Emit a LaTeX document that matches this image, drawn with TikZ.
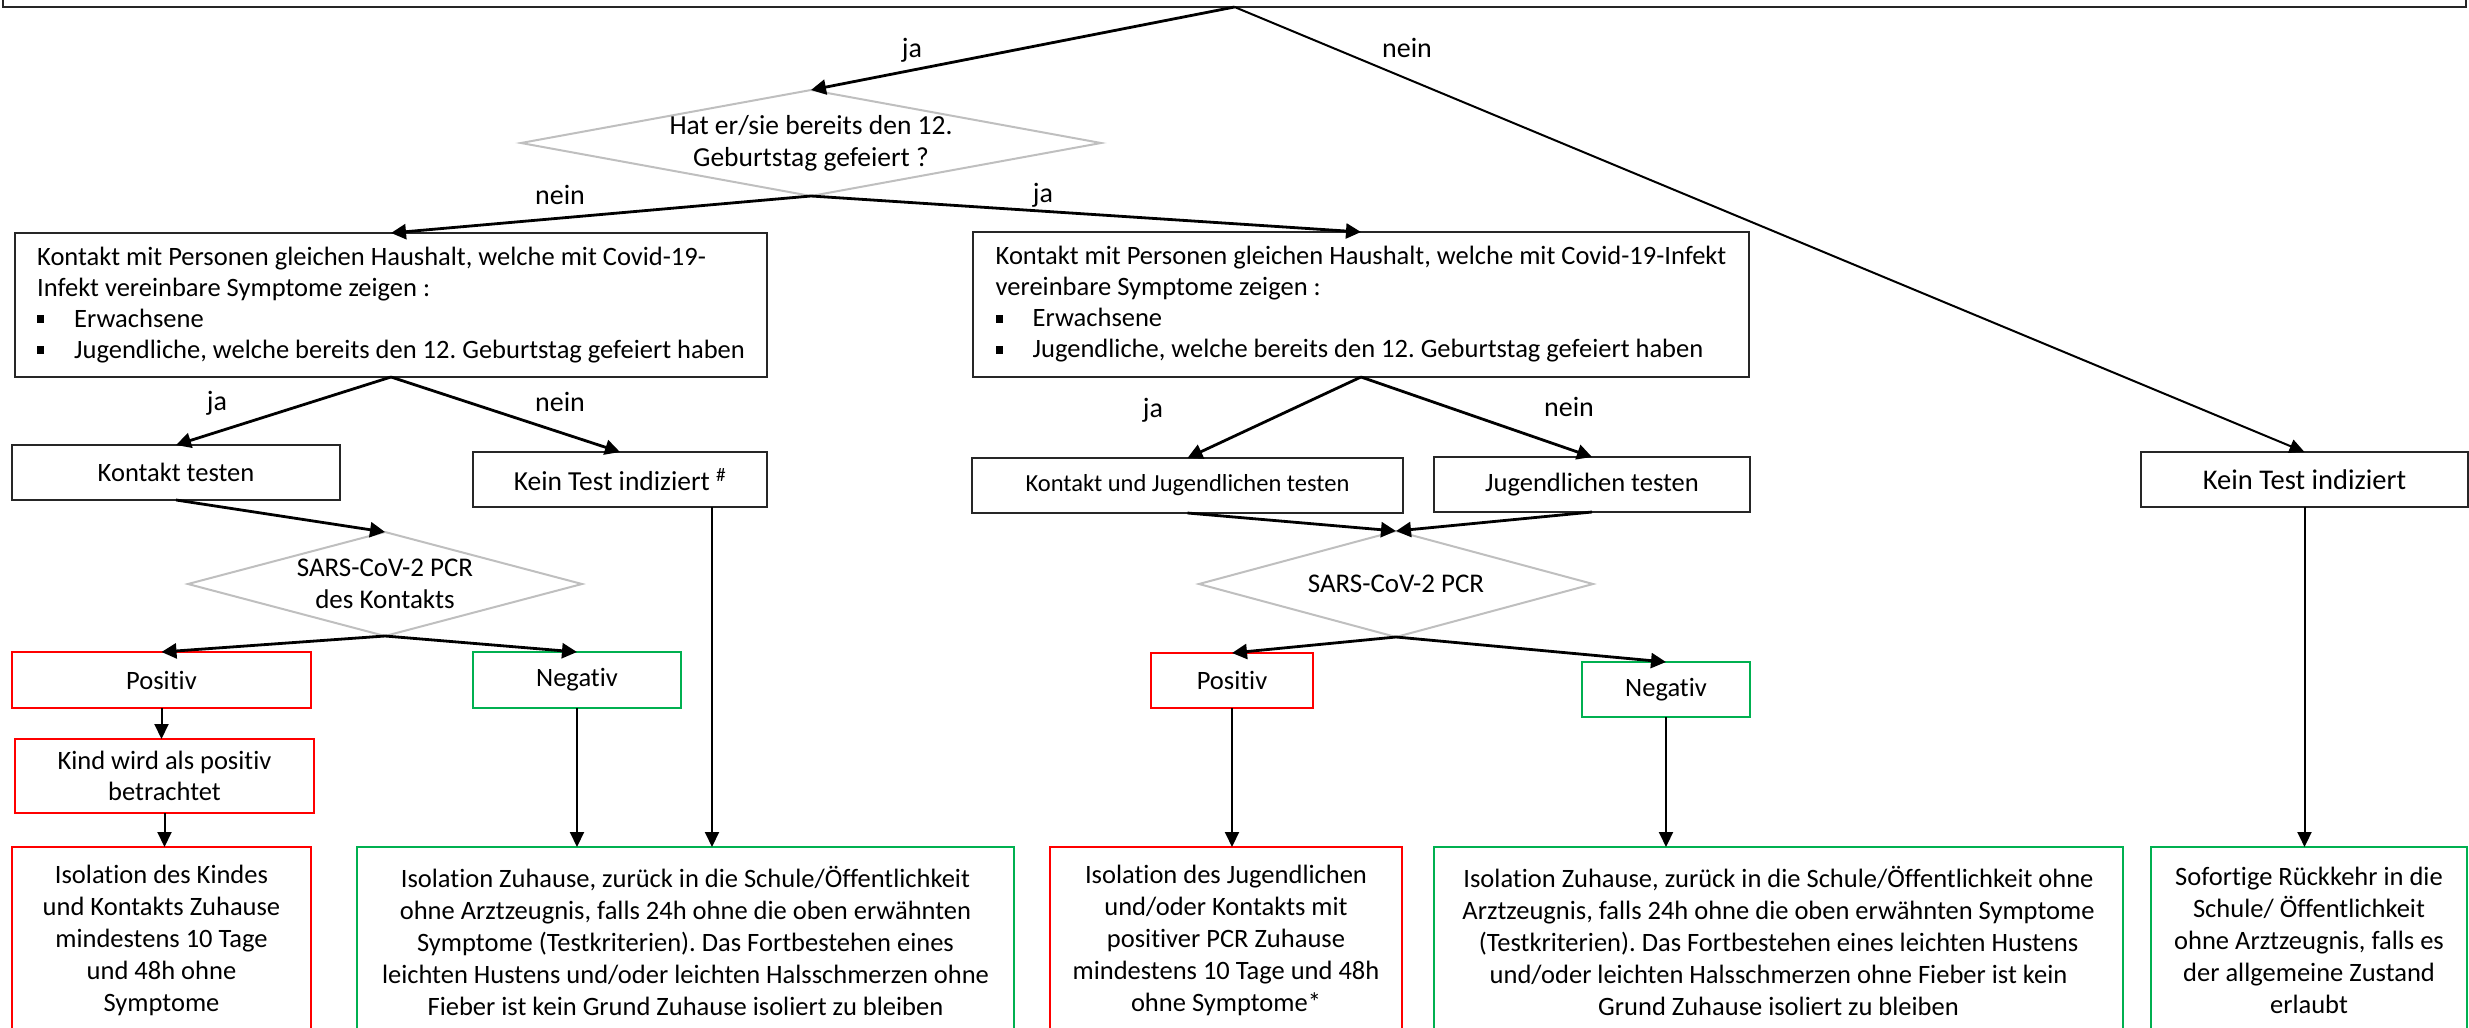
\documentclass[tikz,border=0pt]{standalone}
\usepackage{fontspec}
\setmainfont{Carlito}[Ligatures=NoCommon]
\usetikzlibrary{arrows.meta,shapes.geometric}
\definecolor{ogreen}{RGB}{0,176,80}
\definecolor{dgray}{RGB}{191,191,191}
\newcommand{\bul}{\makebox[37pt][l]{\raisebox{4pt}{\rule{7pt}{8pt}}}}
\frenchspacing
\begin{document}
\begin{tikzpicture}[x=1pt,y=-1pt,
  every node/.style={font=\fontsize{26.5}{31}\selectfont, inner sep=0pt, outer sep=0pt},
  box/.style={draw=black!85, line width=1.5pt, rectangle, align=center},
  redbox/.style={draw=red, line width=1.5pt, rectangle, align=center},
  grnbox/.style={draw=ogreen, line width=1.5pt, rectangle, align=center},
  endbox/.style={font=\fontsize{26.5}{32}\selectfont, minimum height=187pt},
  dia/.style={diamond, draw=dgray, line width=2pt, align=center, inner sep=-25pt},
  thk/.style={line width=2.8pt, -{Triangle[length=15pt,width=15pt]}},
  thn/.style={line width=2pt, -{Triangle[length=15pt,width=14pt]}},
  lbl/.style={font=\fontsize{28}{31}\selectfont}
]
\useasboundingbox (0,0) rectangle (2469,1028);
\clip (0,0) rectangle (2469,1028);

% top box (cut off)
\node[box, line width=2pt, minimum width=2463pt, minimum height=94pt] (top) at (1234.5,-40) {};

% first decision
\node[dia, font=\fontsize{27.5}{32}\selectfont, minimum width=580pt, minimum height=106pt, aspect=5.47] (d1) at (811,143) {Hat er/sie bereits den 12.\\Geburtstag gefeiert ?};

% household boxes
\node[box, minimum width=752pt, minimum height=144pt, align=left] (b1) at (391,305)
 {Kontakt mit Personen gleichen Haushalt, welche mit Covid-19-\\
  Infekt vereinbare Symptome zeigen :\\
  \bul Erwachsene\\
  \bul Jugendliche, welche bereits den 12. Geburtstag gefeiert haben};
\node[box, minimum width=776pt, minimum height=145pt, align=left] (b2) at (1361,304.5)
 {Kontakt mit Personen gleichen Haushalt, welche mit Covid-19-Infekt\\
  vereinbare Symptome zeigen :\\
  \bul Erwachsene\\
  \bul Jugendliche, welche bereits den 12. Geburtstag gefeiert haben};

% test boxes
\node[box, minimum width=328pt, minimum height=55pt] (kt) at (176,472.5) {Kontakt testen};
\node[box, font=\fontsize{27.5}{31}\selectfont, minimum width=294pt, minimum height=55pt] (kti) at (620,479.5) {Kein Test indiziert \textsuperscript{\#}};
\node[box, font=\fontsize{24.5}{31}\selectfont, minimum width=431pt, minimum height=55pt] (kj) at (1187.5,485.5) {Kontakt und Jugendlichen testen};
\node[box, minimum width=316pt, minimum height=55pt] (jt) at (1592,484.5) {Jugendlichen testen};
\node[box, font=\fontsize{28.5}{31}\selectfont, minimum width=327pt, minimum height=55pt] (k3) at (2304.5,479.5) {Kein Test indiziert};

% PCR decisions
\node[dia, font=\fontsize{27}{32}\selectfont, minimum width=394pt, minimum height=104pt, aspect=3.79] (d2) at (385,584) {SARS-CoV-2 PCR\\des Kontakts};
\node[dia, font=\fontsize{27}{32}\selectfont, minimum width=394pt, minimum height=106pt, aspect=3.72] (d3) at (1396,584) {SARS-CoV-2 PCR};

% results
\node[redbox, minimum width=299pt, minimum height=56pt] (p1) at (161.5,680) {Positiv};
\node[grnbox, minimum width=208pt, minimum height=56pt] (n1) at (577,680) {Negativ};
\node[redbox, minimum width=299pt, minimum height=74pt] (kind) at (164.5,776) {Kind wird als positiv\\betrachtet};
\node[redbox, minimum width=162pt, minimum height=55pt] (p2) at (1232,680.5) {Positiv};
\node[grnbox, minimum width=168pt, minimum height=55pt] (n2) at (1666,689.5) {Negativ};

% final boxes (cut off at bottom)
\node[redbox, endbox, minimum width=299pt] (i1) at (161.5,940.5)
 {Isolation des Kindes\\und Kontakts Zuhause\\mindestens 10 Tage\\und 48h ohne\\Symptome};
\node[grnbox, endbox, minimum width=657pt] (g1) at (685.5,940.5)
 {Isolation Zuhause, zurück in die Schule/Öffentlichkeit\\ohne Arztzeugnis, falls 24h ohne die oben erwähnten\\Symptome (Testkriterien). Das Fortbestehen eines\\leichten Hustens und/oder leichten Halsschmerzen ohne\\Fieber ist kein Grund Zuhause isoliert zu bleiben};
\node[redbox, endbox, minimum width=352pt] (i2) at (1226,940.5)
 {Isolation des Jugendlichen\\und/oder Kontakts mit\\positiver PCR Zuhause\\mindestens 10 Tage und 48h\\ohne Symptome*};
\node[grnbox, endbox, minimum width=689pt] (g2) at (1778.5,940.5)
 {Isolation Zuhause, zurück in die Schule/Öffentlichkeit ohne\\Arztzeugnis, falls 24h ohne die oben erwähnten Symptome\\(Testkriterien). Das Fortbestehen eines leichten Hustens\\und/oder leichten Halsschmerzen ohne Fieber ist kein\\Grund Zuhause isoliert zu bleiben};
\node[grnbox, endbox, minimum width=316pt] (g3) at (2309,940.5)
 {Sofortige Rückkehr in die\\Schule/ Öffentlichkeit\\ohne Arztzeugnis, falls es\\der allgemeine Zustand\\erlaubt};

% labels
\node[lbl] (lja1) at (912,50) {ja};
\node[lbl] (lnein1) at (1407,48) {nein};
\node[lbl] (lnein2) at (560,195) {nein};
\node[lbl] (lja2) at (1043,195) {ja};
\node[lbl] (lja3) at (217,403) {ja};
\node[lbl] (lnein3) at (560,402) {nein};
\node[lbl] (lja4) at (1153,410) {ja};
\node[lbl] (lnein4) at (1569,407) {nein};

% connectors
\draw[thk] (top.south) -- (d1.north);
\draw[thn] (top.south) -- (k3.north);
\draw[thk] (d1.south) -- (b1.north);
\draw[thk] (d1.south) -- (b2.north);
\draw[thk] (b1.south) -- (kt.north);
\draw[thk] (b1.south) -- (kti.north);
\draw[thk] (b2.south) -- (kj.north);
\draw[thk] (b2.south) -- (jt.north);
\draw[thk] (kt.south) -- (d2.north);
\draw[thk] (kj.south) -- (d3.north);
\draw[thk] (jt.south) -- (d3.north);
\draw[thk] (d2.south) -- (p1.north);
\draw[thk] (d2.south) -- (n1.north);
\draw[thk] (d3.south) -- (p2.north);
\draw[thk] (d3.south) -- (n2.north);
\draw[thn] (p1.south) -- (p1.south |- kind.north);
\draw[thn] (kind.south) -- (kind.south |- i1.north);
\draw[thn] (n1.south) -- (n1.south |- g1.north);
\draw[thn] ([xshift=92pt]kti.south) -- ([xshift=92pt]kti.south |- g1.north);
\draw[thn] (p2.south) -- (p2.south |- i2.north);
\draw[thn] (n2.south) -- (n2.south |- g2.north);
\draw[thn] (k3.south) -- (k3.south |- g3.north);
\end{tikzpicture}
\end{document}
